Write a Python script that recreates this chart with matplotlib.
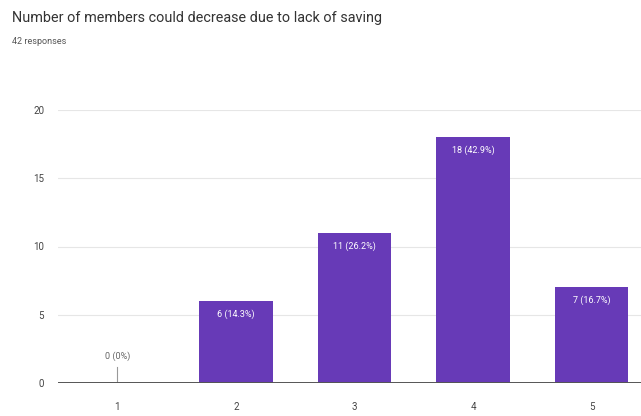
import matplotlib.pyplot as plt

categories = ["1", "2", "3", "4", "5"]
counts = [0, 6, 11, 18, 7]
labels = ["0 (0%)", "6 (14.3%)", "11 (26.2%)", "18 (42.9%)", "7 (16.7%)"]
y_ticks = [0, 5, 10, 15, 20]

TITLE = "Number of members could decrease due to lack of saving"
SUBTITLE = "42 responses"
BAR_COLOR = "#673ab7"

plt.rcParams["font.family"] = ["Roboto", "DejaVu Sans"]

fig = plt.figure(figsize=(6.41, 4.16), dpi=100)
ax = fig.add_axes([58 / 641, 33 / 416, 593 / 641, 273 / 416])

x = list(range(len(categories)))
ax.bar(x, counts, width=0.62, color=BAR_COLOR, zorder=3)

for i, (c, lab) in enumerate(zip(counts, labels)):
    if c > 0:
        ax.text(i, c - 0.6, lab, ha="center", va="top", color="white",
                fontsize=6.5, zorder=4)
    else:
        # zero bar: small leader line with grey label
        ax.plot([i, i], [0, 1.2], color="#999999", lw=0.8, zorder=4)
        ax.text(i, 1.6, lab, ha="center", va="bottom", color="#666666",
                fontsize=6.5, zorder=4)

ax.set_xlim(-0.5, len(categories) - 0.5)
ax.set_ylim(0, 20)
ax.set_xticks(x)
ax.set_xticklabels(categories)
ax.set_yticks(y_ticks)
ax.tick_params(axis="both", length=0, labelsize=7, colors="#444444")
ax.tick_params(axis="x", pad=14)
ax.tick_params(axis="y", pad=10)

ax.grid(axis="y", color="#e6e6e6", lw=0.8, zorder=0)
ax.axhline(0, color="#555555", lw=1.4, zorder=5)
for side in ["top", "right", "left", "bottom"]:
    ax.spines[side].set_visible(False)

fig.text(12 / 641, 1 - 18 / 416, TITLE, fontsize=10.4, color="#333333",
         va="center", ha="left")
fig.text(12 / 641, 1 - 42 / 416, SUBTITLE, fontsize=6.5, color="#555555",
         va="center", ha="left")

fig.savefig("out.png", dpi=100)
